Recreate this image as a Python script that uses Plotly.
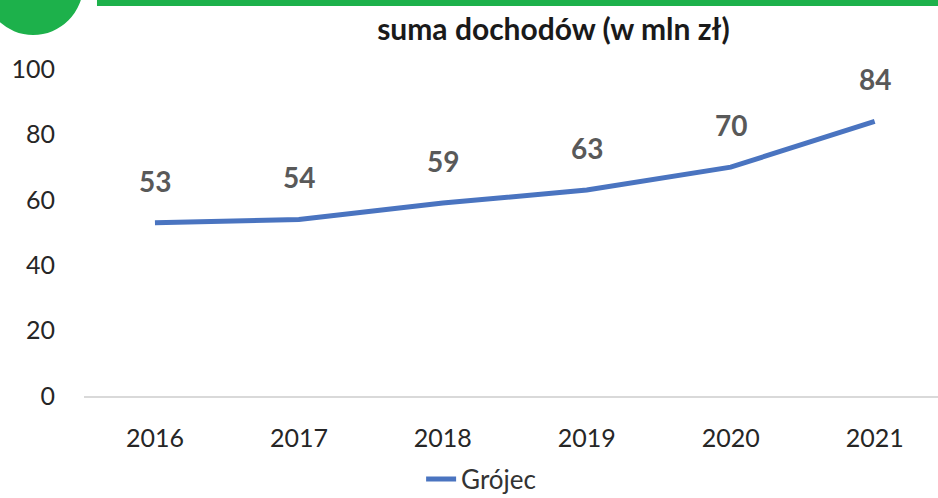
import plotly.graph_objects as go

years = ["2016", "2017", "2018", "2019", "2020", "2021"]
values = [53, 54, 59, 63, 70, 84]
series_name = "Grójec"
title_text = "suma dochodów (w mln zł)"
y_ticks = [0, 20, 40, 60, 80, 100]

FONT = "Lato"
fig = go.Figure()
fig.add_trace(go.Scatter(
    x=years, y=values, mode="lines", name=series_name,
    line=dict(color="#4A74C0", width=5),
))

for i, v in enumerate(values):
    fig.add_annotation(x=i, y=v, xref="x", yref="y", text=f"<b>{v}</b>", showarrow=False,
                       yshift=42, font=dict(family=FONT, size=28, color="#595959"))

# decorative green header elements
fig.add_shape(type="circle", xref="paper", yref="paper",
              x0=-0.118, x1=-0.001, y0=1.104, y1=1.41,
              fillcolor="#1DB14B", line=dict(width=0), layer="above")
fig.add_shape(type="rect", xref="paper", yref="paper",
              x0=0.0152, x1=1.0, y0=1.193, y1=1.25,
              fillcolor="#1DB14B", line=dict(width=0))

fig.update_layout(
    width=938, height=498,
    margin=dict(l=84, r=0, t=69, b=102, autoexpand=False),
    paper_bgcolor="white", plot_bgcolor="white",
    title=dict(text=f"<b>{title_text}</b>", x=0.59, xanchor="center",
               y=0.94, yanchor="middle",
               font=dict(family=FONT, size=30, color="#1a1a1a")),
    showlegend=True,
    legend=dict(orientation="h", x=0.465, xanchor="center", y=-0.326, yanchor="bottom",
                font=dict(family=FONT, size=26, color="#333333")),
    xaxis=dict(type="category", range=[-0.493, 5.44], showgrid=False, automargin=False,
               showline=True, linecolor="#D9D9D9", linewidth=2,
               ticks="", ticklabelstandoff=19,
               tickfont=dict(family=FONT, size=25, color="#262626")),
    yaxis=dict(range=[0, 100], tickvals=y_ticks, showgrid=False, zeroline=False,
               showline=False, ticks="", ticklabelstandoff=28, automargin=False,
               tickfont=dict(family=FONT, size=25, color="#262626")),
)

fig.write_html("out.html", config={"displayModeBar": False},
               post_script="document.body.style.margin='0';document.body.style.overflow='hidden';")
